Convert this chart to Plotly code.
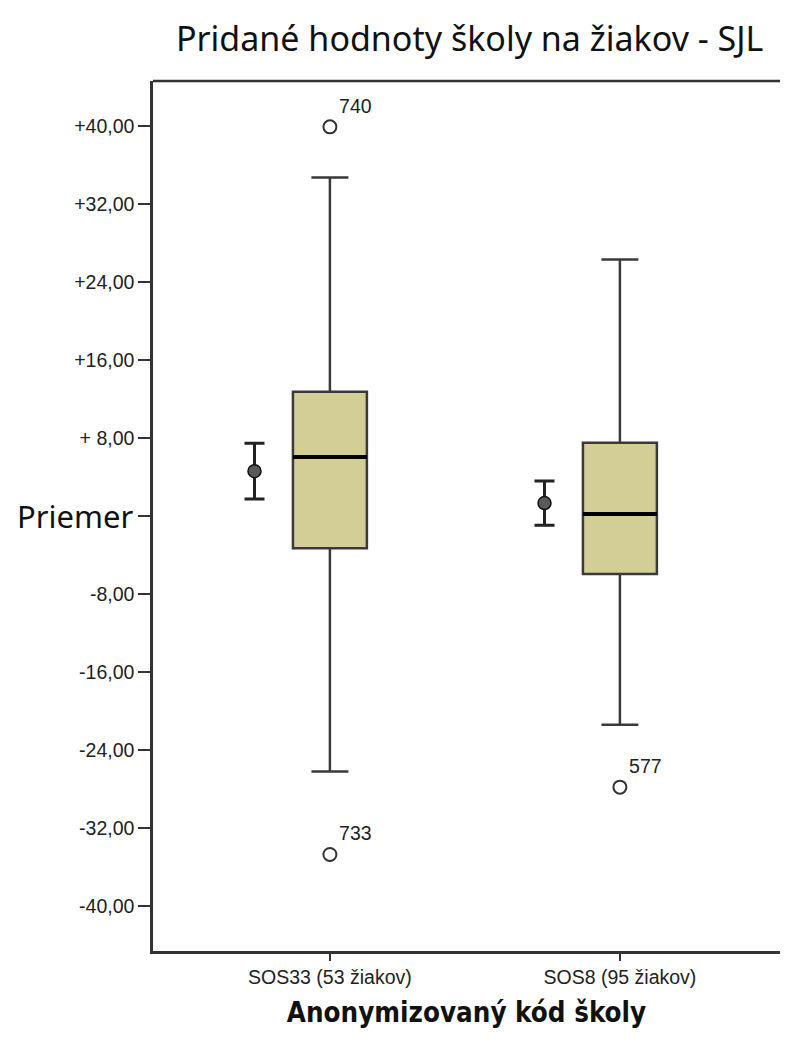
"""Box plot: Pridané hodnoty školy na žiakov - SJL (SPSS-like look)."""
import plotly.graph_objects as go

schools = ["SOS33 (53 žiakov)", "SOS8 (95 žiakov)"]

# box statistics
q1 = [-3.3, -5.95]
median = [6.05, 0.2]
q3 = [12.75, 7.5]
lower_whisker = [-26.2, -21.4]
upper_whisker = [34.7, 26.3]

# outliers with case labels
outlier_school = [0, 0, 1]
outlier_value = [39.9, -34.7, -27.8]
outlier_label = ["740", "733", "577"]

# mean with error bar
mean = [4.6, 1.33]
mean_err = [2.86, 2.27]

y_ticks = [40, 32, 24, 16, 8, -8, -16, -24, -32, -40]
y_tick_text = ["+40,00", "+32,00", "+24,00", "+16,00", "+ 8,00",
               "-8,00", "-16,00", "-24,00", "-32,00", "-40,00"]

BOX_W = 0.255
BOX_FILL = "#D2CE96"
DARK = "#222222"
TICK_FONT = dict(family="Liberation Sans, Arial", size=19.5, color=DARK)

fig = go.Figure()

for i, name in enumerate(schools):
    fig.add_trace(go.Box(
        x=[i], q1=[q1[i]], median=[median[i]], q3=[q3[i]],
        lowerfence=[lower_whisker[i]], upperfence=[upper_whisker[i]],
        width=BOX_W, whiskerwidth=0.5, boxpoints=False,
        fillcolor=BOX_FILL, line=dict(color="#3a3a3a", width=2.5),
        hoverinfo="skip", name=name,
    ))
    # thick median line
    fig.add_trace(go.Scatter(
        x=[i - BOX_W / 2, i + BOX_W / 2], y=[median[i], median[i]],
        mode="lines", line=dict(color="black", width=4), hoverinfo="skip",
    ))
    # mean with error bar, left of the box
    fig.add_trace(go.Scatter(
        x=[i - 0.26], y=[mean[i]], mode="markers",
        marker=dict(size=13, color="#5a5a5a", line=dict(color="#111111", width=1.5)),
        error_y=dict(type="data", array=[mean_err[i]], thickness=3, width=10, color=DARK),
    ))

fig.add_trace(go.Scatter(
    x=outlier_school, y=outlier_value, mode="markers+text",
    marker=dict(symbol="circle-open", size=13, color="#333333", line=dict(width=2)),
    text=outlier_label, textposition="top right",
    textfont=TICK_FONT,
))

fig.add_annotation(
    x=0, xref="paper", y=0, yref="y", text="Priemer", showarrow=False,
    xanchor="right", xshift=-17,
    font=dict(family="Noto Sans", size=31, color="#111111"),
)
fig.add_shape(type="line", xref="paper", yref="paper", x0=0, x1=1, y0=1, y1=1,
              line=dict(color="#333333", width=2.5))

fig.update_layout(
    width=772, height=1028,
    margin=dict(l=145, r=0, t=73, b=85),
    paper_bgcolor="white", plot_bgcolor="white",
    showlegend=False,
    title=dict(text="Pridané hodnoty školy na žiakov - SJL", x=0.598, xref="container",
               xanchor="center", y=0.97, yanchor="middle",
               font=dict(family="Noto Sans", size=34, color="#111111")),
    font=TICK_FONT,
)
fig.update_xaxes(
    range=[-0.61, 1.552], tickvals=[0, 1], ticktext=schools, tickfont=TICK_FONT,
    showgrid=False, zeroline=False, showline=True, linecolor="#333333", linewidth=2.5,
    ticks="outside", ticklen=7, tickcolor="#333333", tickwidth=2,
    title=dict(text="<b>Anonymizovaný kód školy</b>", standoff=16,
               font=dict(family="DejaVu Sans Condensed, DejaVu Sans", size=27.5, color="#111111")),
)
fig.update_yaxes(
    range=[-44.6, 44.6], tickvals=y_ticks + [0], ticktext=y_tick_text + [""],
    tickfont=TICK_FONT,
    showgrid=False, zeroline=False, showline=True, linecolor="#333333", linewidth=2.5,
    ticks="outside", ticklen=12, tickcolor="#333333", tickwidth=2,
)

fig.write_html("out.html")
